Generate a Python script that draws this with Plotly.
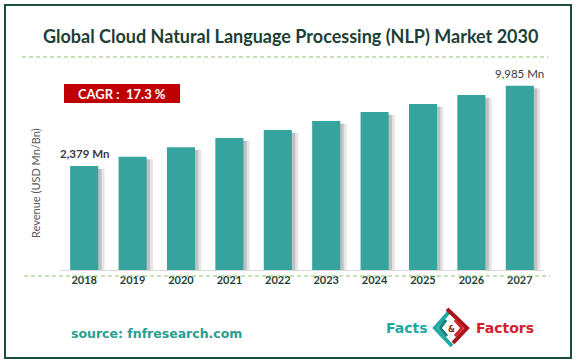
import plotly.graph_objects as go

# ---- data ----
years = ["2018", "2019", "2020", "2021", "2022", "2023", "2024", "2025", "2026", "2027"]
revenue_mn = [2379, 3260, 4150, 5030, 5790, 6640, 7490, 8250, 9100, 9985]
labelled_years = ["2018", "2027"]
title_text = "Global Cloud Natural Language Processing (NLP) Market 2030"
cagr_text = "CAGR :  17.3 %"
y_title = "Revenue (USD Mn/Bn)"
source_text = "source: fnfresearch.com"

# ---- layout constants ----
W, H = 576, 363
AX_FLOOR = -7472          # visual axis floor of the (hidden) value axis
AX_TOP = 10525
TEAL = "#36A39F"
DARK = "#1E3F35"
FONT = "Lato"


def px(x):
    return x / W


def py(y):
    return 1 - y / H


def path(points):
    return "M " + " L ".join(f"{px(x):.5f},{py(y):.5f}" for x, y in points)


def note(x, y, text, **kw):
    d = dict(x=px(x), y=py(y), xref="paper", yref="paper", text=text,
             showarrow=False, xanchor="center", yanchor="middle")
    d.update(kw)
    return d


fig = go.Figure()

bw = 0.58
# shadows (two layers for a soft gradient)
for dx, alpha in [(0.13, 0.10), (0.07, 0.16)]:
    fig.add_trace(go.Bar(
        x=years, y=[v - 250 - AX_FLOOR for v in revenue_mn], base=AX_FLOOR,
        width=bw, offset=-bw / 2 + dx,
        marker=dict(color=f"rgba(0,0,0,{alpha})", line=dict(width=0)),
        hoverinfo="skip", showlegend=False))

fig.add_trace(go.Bar(
    x=years, y=[v - AX_FLOOR for v in revenue_mn], base=AX_FLOOR,
    width=bw, offset=-bw / 2,
    marker=dict(color=TEAL, line=dict(width=0)),
    customdata=revenue_mn, hovertemplate="%{x}: %{customdata:,} Mn<extra></extra>",
    showlegend=False))

annotations = []
first = True
for idx, (yr, v) in enumerate(zip(years, revenue_mn)):
    if yr not in labelled_years:
        continue
    txt = f"{v:,} Mn"
    annotations.append(dict(
        x=idx, y=v, xref="x", yref="y", text=f"<b>{txt}</b>" if first else txt,
        showarrow=False, xanchor="center", yanchor="bottom", yshift=4,
        font=dict(family=FONT, size=11.5, color="#3A3A3A")))
    first = False

annotations += [
    note(290, 36, f"<b>{title_text}</b>", font=dict(family=FONT, size=18, color=DARK)),
    note(122, 93.5, f"<b>{cagr_text}</b>", font=dict(family=FONT, size=13, color="white")),
    note(35, 183, y_title, textangle=-90, font=dict(family=FONT, size=11, color="#595959")),
    note(69, 333, f"<b>{source_text}</b>", xanchor="left",
         font=dict(family="DejaVu Sans", size=12.5, color="#2A9D8F")),
    note(407, 328, "<b>Facts</b>", font=dict(family="DejaVu Sans", size=14, color="#1FA9A3")),
    note(505, 328, "<b>Factors</b>", font=dict(family="DejaVu Sans", size=14, color="#D0232B")),
    note(451, 329, "<b>&</b>", font=dict(family="DejaVu Sans", size=8, color="#9B1B20")),
]

shapes = [
    # outer border
    dict(type="rect", xref="paper", yref="paper", x0=px(5), x1=px(571), y0=py(5), y1=py(358),
         line=dict(color="#1E4D40", width=2), fillcolor="rgba(0,0,0,0)"),
    # dashed rules
    dict(type="line", xref="paper", yref="paper", x0=px(22), x1=px(548), y0=py(57), y1=py(57),
         line=dict(color="#8CC56A", width=1, dash="4px,3px")),
    dict(type="line", xref="paper", yref="paper", x0=px(24), x1=px(550), y0=py(276), y1=py(276),
         line=dict(color="#8CC56A", width=1, dash="4px,3px")),
    # CAGR box
    dict(type="rect", xref="paper", yref="paper", x0=px(64), x1=px(180), y0=py(84), y1=py(103),
         line=dict(width=0), fillcolor="#C00000", layer="below"),
    # logo icon: teal chevrons
    dict(type="path", xref="paper", yref="paper", path=path([(449, 312), (435, 328), (452, 346)]),
         line=dict(color="#1FA9A3", width=4)),
    dict(type="path", xref="paper", yref="paper", path=path([(446, 320), (440, 328), (447, 336)]),
         line=dict(color="#17807B", width=3)),
    # logo icon: red chevrons
    dict(type="path", xref="paper", yref="paper", path=path([(447, 309), (467, 328), (453, 343)]),
         line=dict(color="#A8161C", width=4)),
    dict(type="path", xref="paper", yref="paper", path=path([(455, 320), (462, 328), (455, 336)]),
         line=dict(color="#D0232B", width=3)),
]

fig.update_layout(
    width=W, height=H,
    margin=dict(l=0, r=0, t=0, b=0),
    paper_bgcolor="white", plot_bgcolor="white",
    barmode="overlay",
    annotations=annotations, shapes=shapes,
    xaxis=dict(domain=[px(60), px(544)], type="category", range=[-0.5, 9.5],
               showline=True, linecolor="#D9D9D9", linewidth=1, showgrid=False,
               ticks="", tickfont=dict(family=FONT, size=11, color=DARK),
               tickprefix="<b>", ticksuffix="</b>", fixedrange=True),
    yaxis=dict(domain=[py(270), py(80)], range=[AX_FLOOR, AX_TOP],
               showticklabels=False, showline=False, ticks="",
               showgrid=False, zeroline=False, fixedrange=True),
    font=dict(family=FONT),
)

fig.write_html("out.html", config={"displayModeBar": False},
               post_script="document.body.style.margin='0';document.body.style.overflow='hidden';")
